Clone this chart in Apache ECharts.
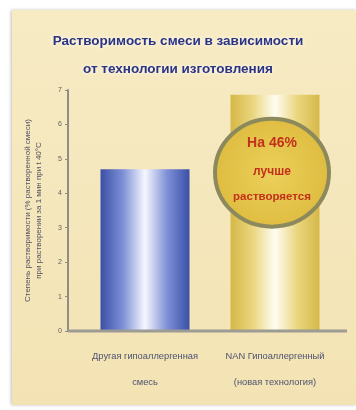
<!DOCTYPE html>
<html>
<head>
<meta charset="utf-8">
<style>
  html, body { margin: 0; padding: 0; background: #ffffff; }
  #chart { width: 356px; height: 410px; }
</style>
<script src="https://cdn.jsdelivr.net/npm/echarts@6/dist/echarts.min.js"></script>
</head>
<body>
<div id="chart"></div>
<script>
// Data
const categories = ['Другая гипоаллергенная\nсмесь', 'NAN Гипоаллергенный\n(новая технология)'];
const solubility = [4.7, 6.86];
const yTicks = ['0', '1', '2', '3', '4', '5', '6', '7'];
const titleLines = ['Растворимость смеси в зависимости', 'от технологии изготовления'];
const badgeLines = ['На 46%', 'лучше', 'растворяется'];

const sans = '"Liberation Sans", Arial, sans-serif';

function barGradient(edge, mid, centre) {
  return new echarts.graphic.LinearGradient(0, 0, 1, 0, [
    { offset: 0, color: edge },
    { offset: 0.25, color: mid },
    { offset: 0.5, color: centre },
    { offset: 0.75, color: mid },
    { offset: 1, color: edge }
  ]);
}
const barStyles = [
  barGradient('#3a50a6', '#7d8fd6', '#f6f7ff'),
  barGradient('#d6b848', '#ead67e', '#fffdf2')
];

const chart = echarts.init(document.getElementById('chart'), null, { renderer: 'canvas' });

chart.setOption({
  backgroundColor: '#ffffff',
  animation: false,
  title: {
    text: titleLines.join('\n'),
    left: 'center',
    top: 22,
    textStyle: {
      fontFamily: sans,
      fontWeight: 'bold',
      fontSize: 13.5,
      lineHeight: 28,
      color: '#2b3384',
      textShadowColor: 'rgba(255,255,255,0.9)',
      textShadowBlur: 4
    }
  },
  grid: { left: 80, right: 16, top: 90, bottom: 79 },
  xAxis: {
    type: 'category',
    data: categories,
    axisLine: { show: false },
    axisTick: { show: false },
    axisLabel: {
      margin: 12,
      fontFamily: sans,
      fontSize: 9.3,
      lineHeight: 26,
      color: '#4c5270',
      interval: 0
    }
  },
  yAxis: {
    type: 'value',
    min: 0,
    max: 7,
    interval: 1,
    offset: 12,
    name: 'Степень растворимости (% растворенной смеси)\nпри растворении за 1 мин при t 40°С',
    nameLocation: 'middle',
    nameGap: 24,
    nameTextStyle: {
      fontFamily: sans,
      fontSize: 8,
      lineHeight: 11,
      color: '#505060'
    },
    axisLine: { show: true, lineStyle: { color: '#8e8e84', width: 2 } },
    axisTick: { show: true, length: 3, lineStyle: { color: '#8e8e84' } },
    axisLabel: {
      margin: 6,
      fontFamily: sans,
      fontSize: 7,
      color: '#606060',
      formatter: v => yTicks[v]
    },
    splitLine: { show: false }
  },
  series: [{
    type: 'bar',
    barWidth: 89,
    data: solubility.map((v, i) => ({ value: v, itemStyle: { color: barStyles[i] } })),
    z: 3
  }]
});

// Background panel, baseline and the callout over the second bar
function decorate() {
  const origin = chart.convertToPixel({ xAxisIndex: 0, yAxisIndex: 0 }, [0, 0]);
  const centre = chart.convertToPixel({ xAxisIndex: 0, yAxisIndex: 0 }, [1, 4.6]);
  const cx = centre[0] - 3, cy = centre[1];
  chart.setOption({
    graphic: [
      {
        type: 'rect', z: -10, silent: true,
        shape: { x: 12, y: 10, width: 344, height: 395 },
        style: {
          fill: new echarts.graphic.LinearGradient(0, 0, 0, 1, [
            { offset: 0, color: '#f7ebc4' },
            { offset: 1, color: '#f3e3b4' }
          ]),
          shadowColor: 'rgba(0,0,0,0.25)', shadowBlur: 3, shadowOffsetX: -1
        }
      },
      {
        type: 'rect', z: 10, silent: true,
        shape: { x: 68, y: origin[1] - 1.5, width: 279, height: 3 },
        style: { fill: '#9c9c94' }
      },
      {
        type: 'ellipse', z: 20, silent: true,
        shape: { cx: cx, cy: cy, rx: 57, ry: 54 },
        style: {
          fill: new echarts.graphic.RadialGradient(0.5, 0.5, 0.6, [
            { offset: 0, color: '#ecd05a' },
            { offset: 1, color: '#dcb93c' }
          ]),
          stroke: '#8c8a5c', lineWidth: 4
        }
      },
      {
        type: 'text', z: 21, silent: true,
        x: cx, y: cy - 29,
        style: {
          text: badgeLines[0], align: 'center', verticalAlign: 'middle',
          fontFamily: sans, fontWeight: 'bold', fontSize: 14, fill: '#c3301c'
        }
      },
      {
        type: 'text', z: 21, silent: true,
        x: cx, y: cy - 1,
        style: {
          text: badgeLines[1], align: 'center', verticalAlign: 'middle',
          fontFamily: sans, fontWeight: 'bold', fontSize: 12, fill: '#c3301c'
        }
      },
      {
        type: 'text', z: 21, silent: true,
        x: cx, y: cy + 24,
        style: {
          text: badgeLines[2], align: 'center', verticalAlign: 'middle',
          fontFamily: sans, fontWeight: 'bold', fontSize: 11.5, fill: '#c3301c'
        }
      }
    ]
  });
}
decorate();
</script>
</body>
</html>
